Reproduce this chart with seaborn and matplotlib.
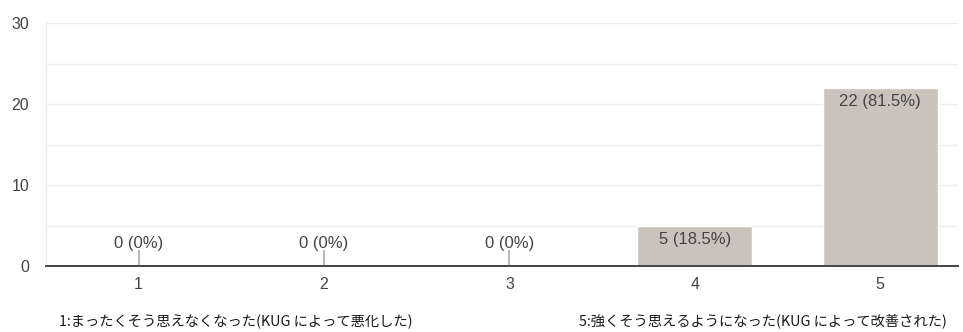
import matplotlib
matplotlib.use("Agg")
import matplotlib.pyplot as plt
import seaborn as sns
import pandas as pd

# Survey responses on a 1-5 scale
categories = ["1", "2", "3", "4", "5"]
counts = [0, 0, 0, 5, 22]
y_ticks = [0, 10, 20, 30]
caption_low = "1:まったくそう思えなくなった(KUG によって悪化した)"
caption_high = "5:強くそう思えるようになった(KUG によって改善された)"

total = sum(counts)
df = pd.DataFrame({"choice": categories, "count": counts})

sns.set_theme(style="white")
plt.rcParams["font.family"] = ["Liberation Sans", "Noto Sans CJK JP", "DejaVu Sans"]

fig = plt.figure(figsize=(9.63, 3.32), dpi=100)
ax = fig.add_axes([46 / 963, 1 - 266 / 332, (958 - 46) / 963, (266 - 23) / 332])

bar_color = "#c9c3bb"
sns.barplot(data=df, x="choice", y="count", color=bar_color, width=0.62,
            saturation=1, ax=ax, zorder=2)

ax.set_ylim(0, 30)
ax.set_xlim(-0.5, 4.42)
ax.set_yticks(y_ticks)
ax.set_yticks([5, 15, 25], minor=True)
ax.grid(axis="y", which="both", color="#eeeeee", linewidth=1, zorder=0)
ax.set_axisbelow(True)

for side in ("top", "right"):
    ax.spines[side].set_visible(False)
ax.spines["left"].set_color("#eeeeee")
ax.spines["left"].set_linewidth(1)
ax.spines["bottom"].set_color("#444444")
ax.spines["bottom"].set_linewidth(1.4)
ax.spines["bottom"].set_zorder(4)

ax.tick_params(axis="both", which="both", length=0, labelsize=11.5,
               labelcolor="#444444")
ax.tick_params(axis="y", pad=12)
ax.tick_params(axis="x", pad=8)
ax.set_xlabel("")
ax.set_ylabel("")

# value labels; empty categories get a short stem marker instead of a bar
label_size = 12
for i, v in enumerate(counts):
    pct = v / total * 100
    pct_txt = "0%" if v == 0 else f"{pct:.1f}%"
    label = f"{v} ({pct_txt})"
    if v == 0:
        ax.vlines(i, 0, 2.0, color="#aaaaaa", linewidth=1.2, zorder=3)
        ax.text(i, 2.8, label, ha="center", va="center", fontsize=label_size,
                color="#444444", zorder=5)
    else:
        ax.text(i, v - 1.75, label, ha="center", va="center", fontsize=label_size,
                color="#444444", zorder=5)

fig.text(236 / 963, 1 - 322 / 332, caption_low, ha="center", va="center",
         fontsize=10.3, color="#1a1a1a",
         family=["Noto Sans CJK JP", "DejaVu Sans"])
fig.text(763 / 963, 1 - 322 / 332, caption_high, ha="center", va="center",
         fontsize=10.3, color="#1a1a1a",
         family=["Noto Sans CJK JP", "DejaVu Sans"])

fig.savefig("out.png", dpi=100, facecolor="white")
